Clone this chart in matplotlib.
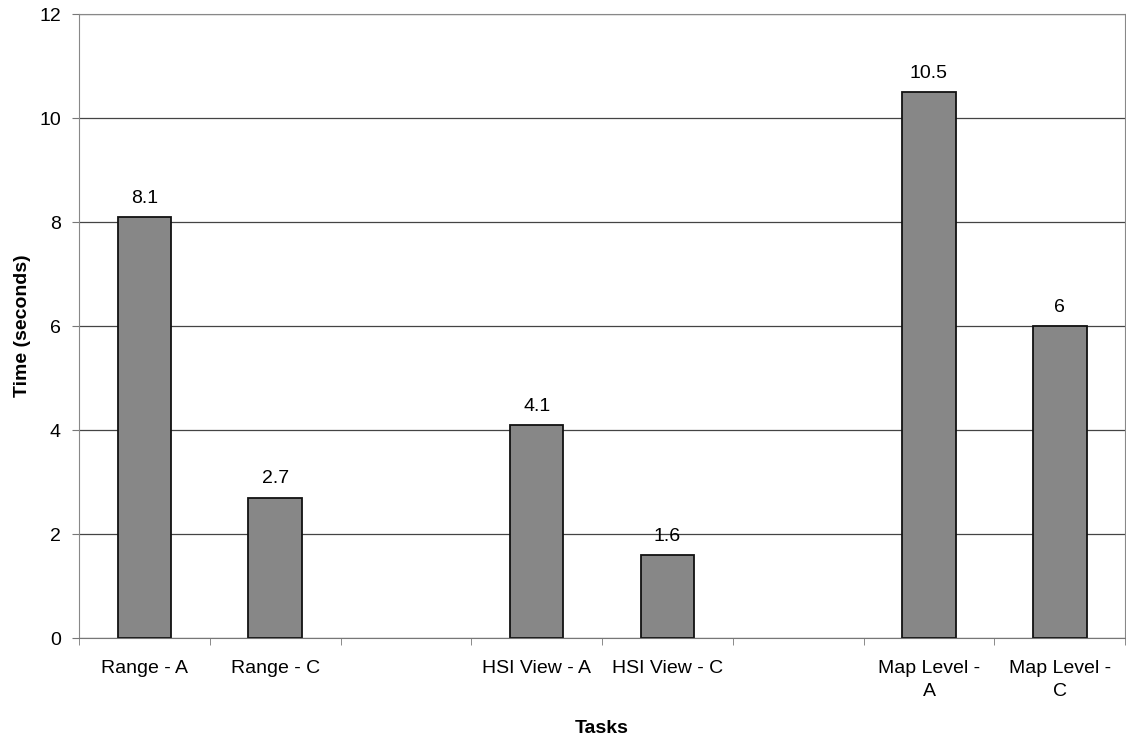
import numpy as np
import matplotlib.pyplot as plt

plt.rcParams['font.family'] = ['Liberation Sans', 'DejaVu Sans']

tasks = ["Range - A", "Range - C", "", "HSI View - A", "HSI View - C", "",
         "Map Level -\nA", "Map Level -\nC"]
times = [8.1, 2.7, None, 4.1, 1.6, None, 10.5, 6]


def task_bar_chart(labels, values):
    fig = plt.figure(figsize=(11.26, 7.42), dpi=100)
    ax = fig.add_axes([0.0702, 0.140, 0.929, 0.841])

    pos = np.arange(len(labels))
    shown = [i for i, v in enumerate(values) if v is not None]
    heights = [values[i] for i in shown]

    ax.set_axisbelow(True)
    ax.yaxis.grid(True, color='#444444', linewidth=0.9)
    bars = ax.bar(shown, heights, width=0.41, color='#878787',
                  edgecolor='#111111', linewidth=1.3)
    for b, v in zip(bars, heights):
        ax.text(b.get_x() + b.get_width() / 2, v + 0.2, f"{v:g}",
                ha='center', va='bottom', fontsize=14)

    ax.set_xlim(-0.5, len(labels) - 0.5)
    ax.set_ylim(0, 12)
    ax.set_yticks(range(0, 13, 2))
    ax.set_xticks(pos)
    ax.set_xticklabels(labels, fontsize=14, linespacing=1.45, va='top')
    ax.tick_params(axis='x', which='major', length=0, pad=16)
    ax.set_xticks(np.arange(-0.5, len(labels), 1.0), minor=True)
    ax.tick_params(axis='x', which='minor', length=5, color='#777777')
    ax.tick_params(axis='y', length=5, color='#777777', labelsize=14, pad=8)

    for s in ['left', 'right', 'top']:
        ax.spines[s].set_color('#888888')
    ax.spines['bottom'].set_color('#777777')

    ax.set_ylabel('Time (seconds)', fontsize=14, fontweight='bold', labelpad=6)
    ax.set_xlabel('Tasks', fontsize=14, fontweight='bold', labelpad=14)

    fig.savefig('out.png', dpi=100)


if __name__ == '__main__':
    task_bar_chart(tasks, times)
